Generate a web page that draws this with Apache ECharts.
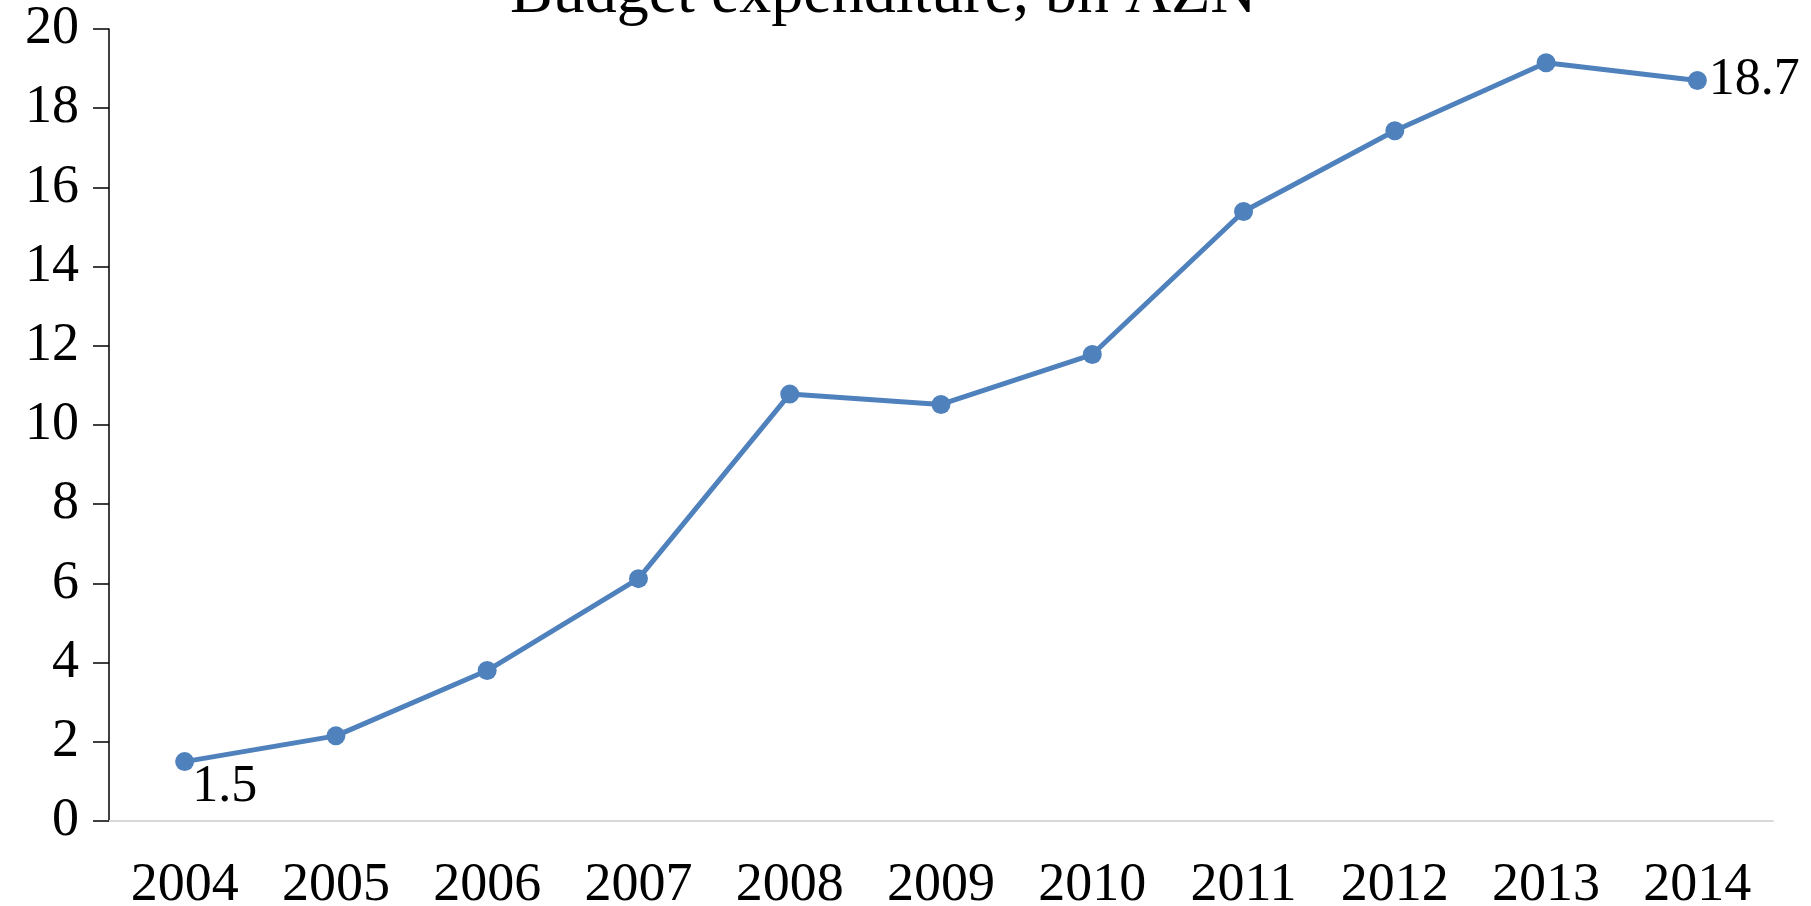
<!DOCTYPE html>
<html>
<head>
<meta charset="utf-8">
<script src="https://cdn.jsdelivr.net/npm/echarts@6/dist/echarts.min.js"></script>
<style>
  html, body { margin: 0; padding: 0; background: #fff; }
  #main { width: 1811px; height: 906px; }
</style>
</head>
<body>
<div id="main"></div>
<script>
var years = ['2004', '2005', '2006', '2007', '2008', '2009', '2010', '2011', '2012', '2013', '2014'];
var spending = [1.5, 2.15, 3.8, 6.12, 10.78, 10.52, 11.78, 15.39, 17.43, 19.15, 18.7];
var yTicks = [0, 20, 2]; // min, max, step

var myChart = echarts.init(document.getElementById('main'));

var font = '"Liberation Serif", "Times New Roman", serif';

// only first and last point carry a label
var seriesData = spending.map(function (v, i) {
    var item = { value: v };
    if (i === 0) {
        item.label = { show: true, position: 'right', distance: 0, offset: [-2, 26] };
    } else if (i === spending.length - 1) {
        item.label = { show: true, position: 'right', distance: 2 };
    }
    return item;
});

var option = {
    backgroundColor: '#fff',
    title: {
        text: 'Budget expenditure, bn AZN',
        left: 505,
        top: -42,
        textStyle: { fontFamily: font, fontWeight: 'normal', fontSize: 64, color: '#000' }
    },
    grid: { left: 109, right: 38, top: 29, bottom: 85, outerBoundsMode: 'none', containLabel: false },
    xAxis: {
        type: 'category',
        data: years,
        boundaryGap: true,
        axisLine: { lineStyle: { color: '#d9d9d9', width: 2 } },
        axisTick: { show: false },
        axisLabel: { fontFamily: font, fontSize: 54, color: '#000', margin: 38 }
    },
    yAxis: {
        type: 'value',
        min: yTicks[0],
        max: yTicks[1],
        interval: yTicks[2],
        splitLine: { show: false },
        axisLine: { show: true, lineStyle: { color: '#000', width: 1.5 } },
        axisTick: { show: true, length: 16, lineStyle: { color: '#000', width: 1.5 } },
        axisLabel: { fontFamily: font, fontSize: 54, color: '#000', margin: 30 }
    },
    series: [{
        type: 'line',
        data: seriesData,
        symbol: 'circle',
        symbolSize: 19,
        itemStyle: { color: '#4f81bd' },
        lineStyle: { color: '#4f81bd', width: 5 },
        label: { show: false, fontFamily: font, fontSize: 52, color: '#000' },
        animation: false
    }]
};
myChart.setOption(option);
</script>
</body>
</html>
